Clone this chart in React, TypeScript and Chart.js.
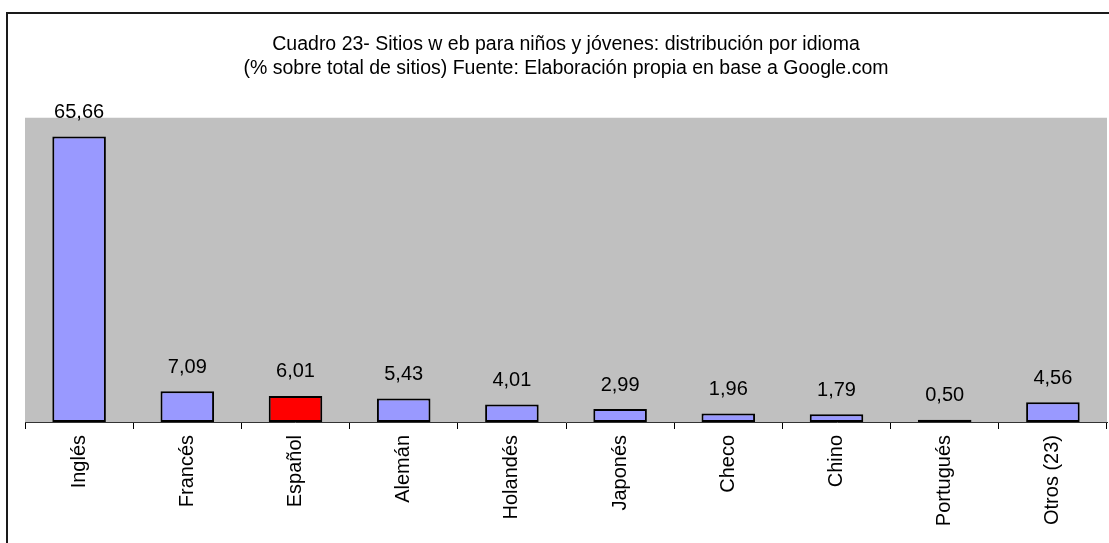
import React, { useEffect, useRef } from "react";
import { Chart, registerables } from "chart.js";

Chart.register(...registerables);

// Languages of the sites and their share (% of all sites)
const idiomas = [
  "Inglés",
  "Francés",
  "Español",
  "Alemán",
  "Holandés",
  "Japonés",
  "Checo",
  "Chino",
  "Portugués",
  "Otros (23)",
];
const porcentajes = [65.66, 7.09, 6.01, 5.43, 4.01, 2.99, 1.96, 1.79, 0.5, 4.56];
const destacado = "Español";

const titulo = [
  "Cuadro 23- Sitios w eb para niños y jóvenes: distribución por idioma",
  "(% sobre total de sitios) Fuente: Elaboración propia en base a Google.com",
];

const FONT = "'Liberation Sans', Arial, sans-serif";
const LILA = "#9999FF";
const ROJO = "#FF0000";
const GRIS = "#C0C0C0";

const fmt = (v: number) => v.toFixed(2).replace(".", ",");

// Outer frame and grey plotting area
const fondo = {
  id: "fondo",
  beforeDraw(chart: any) {
    const { ctx, chartArea } = chart;
    ctx.save();
    ctx.fillStyle = "#ffffff";
    ctx.fillRect(0, 0, chart.width, chart.height);
    ctx.fillStyle = GRIS;
    ctx.fillRect(
      chartArea.left,
      chartArea.top,
      chartArea.right - chartArea.left,
      chartArea.bottom - chartArea.top
    );
    ctx.strokeStyle = "#1a1a1a";
    ctx.lineWidth = 2;
    ctx.strokeRect(7, 13, chart.width + 40, chart.height + 40);
    ctx.restore();
  },
};

// Value written above each bar
const etiquetas = {
  id: "etiquetas",
  afterDatasetsDraw(chart: any) {
    const { ctx } = chart;
    const meta = chart.getDatasetMeta(0);
    const data = chart.data.datasets[0].data as number[];
    ctx.save();
    ctx.fillStyle = "#000";
    ctx.font = `20px ${FONT}`;
    ctx.textAlign = "center";
    ctx.textBaseline = "middle";
    meta.data.forEach((bar: any, i: number) => {
      ctx.fillText(fmt(data[i]), bar.x, bar.y - 24);
    });
    ctx.restore();
  },
};

export default function App() {
  const ref = useRef<HTMLCanvasElement | null>(null);

  useEffect(() => {
    document.body.style.margin = "0";
    if (!ref.current) return;
    const chart = new Chart(ref.current, {
      type: "bar",
      data: {
        labels: idiomas,
        datasets: [
          {
            data: porcentajes,
            backgroundColor: idiomas.map((l) => (l === destacado ? ROJO : LILA)),
            borderColor: "#000",
            borderWidth: 2,
            borderSkipped: false,
            barPercentage: 0.495,
            categoryPercentage: 1,
          },
        ],
      },
      options: {
        animation: false,
        responsive: true,
        maintainAspectRatio: false,
        layout: { padding: { left: 25, right: 2, top: 0, bottom: 0 } },
        plugins: {
          legend: { display: false },
          tooltip: { enabled: false },
          title: {
            display: true,
            text: titulo,
            color: "#000",
            font: { family: FONT, size: 19.5, weight: "normal", lineHeight: 1.25 },
            padding: { top: 32, bottom: 37 },
          },
        },
        scales: {
          x: {
            offset: true,
            grid: {
              display: true,
              offset: true,
              drawOnChartArea: false,
              drawTicks: true,
              tickLength: 7,
              color: "#000",
              lineWidth: 1,
            },
            border: { display: true, color: "#333", width: 1 },
            ticks: {
              color: "#000",
              font: { family: FONT, size: 20 },
              minRotation: 90,
              maxRotation: 90,
              autoSkip: false,
              padding: 6,
            },
            afterFit(scale: any) {
              scale.height = 121;
            },
          },
          y: {
            display: false,
            min: 0,
            max: 70,
          },
        },
      },
      plugins: [fondo, etiquetas],
    });
    return () => chart.destroy();
  }, []);

  return (
    <div style={{ position: "relative", width: "1109px", height: "543px" }}>
      <canvas ref={ref} />
    </div>
  );
}
